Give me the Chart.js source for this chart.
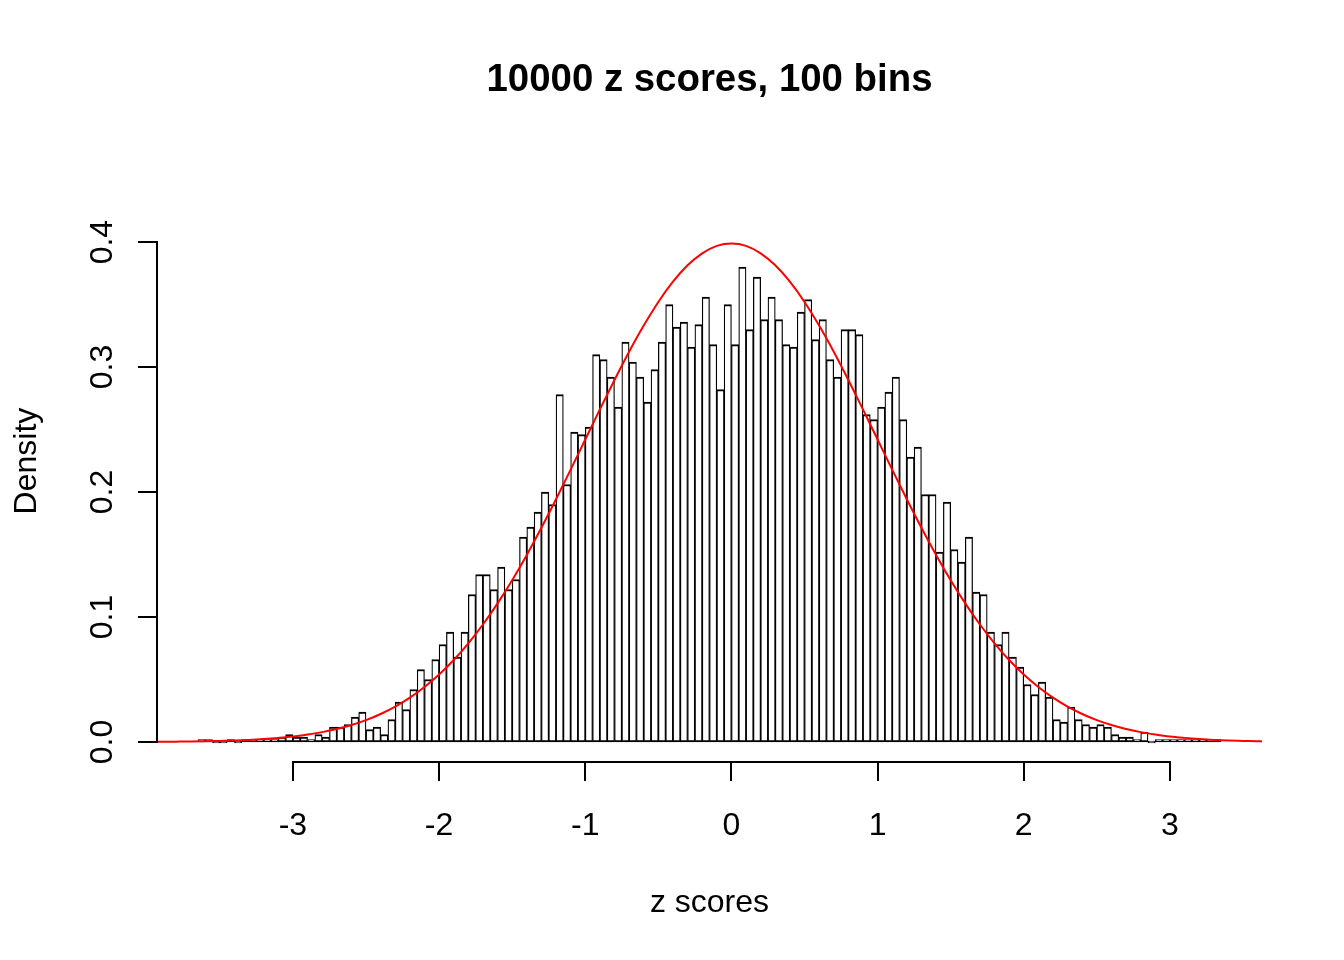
<!DOCTYPE html>
<html>
<head>
<meta charset="utf-8">
<script src="https://cdn.jsdelivr.net/npm/chart.js@4"></script>
<style>
  html, body { margin: 0; padding: 0; background: #ffffff; }
  #wrap { width: 1344px; height: 960px; }
</style>
</head>
<body>
<div id="wrap"><canvas id="c" width="1344" height="960"></canvas></div>
<script>
// ---- data ----
const titleText = "10000 z scores, 100 bins";
const xTitle = "z scores";
const yTitle = "Density";
const binStart = -3.65;
const binWidth = 0.05;
const densities = [
  0.002, 0.002, 0, 0, 0.002, 0, 0.002, 0.002, 0.002, 0.002,
  0.002, 0.004, 0.006, 0.004, 0.004, 0.002, 0.006, 0.004, 0.012, 0.012,
  0.014, 0.020, 0.024, 0.010, 0.012, 0.006, 0.018, 0.032, 0.026, 0.042,
  0.058, 0.050, 0.066, 0.078, 0.088, 0.068, 0.088, 0.118, 0.134, 0.134,
  0.122, 0.140, 0.122, 0.130, 0.164, 0.172, 0.184, 0.200, 0.190, 0.278,
  0.206, 0.248, 0.246, 0.252, 0.310, 0.306, 0.292, 0.268, 0.320, 0.304,
  0.292, 0.272, 0.298, 0.320, 0.350, 0.332, 0.336, 0.316, 0.334, 0.356,
  0.318, 0.282, 0.350, 0.318, 0.380, 0.330, 0.372, 0.338, 0.356, 0.338,
  0.318, 0.316, 0.344, 0.354, 0.322, 0.338, 0.306, 0.292, 0.330, 0.330,
  0.326, 0.262, 0.258, 0.268, 0.280, 0.292, 0.258, 0.228, 0.236, 0.198,
  0.198, 0.152, 0.192, 0.154, 0.144, 0.164, 0.120, 0.118, 0.088, 0.078,
  0.088, 0.068, 0.060, 0.046, 0.038, 0.048, 0.036, 0.018, 0.016, 0.028,
  0.018, 0.014, 0.012, 0.014, 0.012, 0.006, 0.004, 0.004, 0.002, 0.008,
  0, 0.002, 0.002, 0.002, 0.002, 0.002, 0.002, 0.002, 0.002, 0.002
];
const curveX = [
  -3.93, -3.9, -3.8, -3.7, -3.6, -3.5, -3.4, -3.3, -3.2, -3.1, -3.0,
  -2.9, -2.8, -2.7, -2.6, -2.5, -2.4, -2.3, -2.2, -2.1, -2.0,
  -1.9, -1.8, -1.7, -1.6, -1.5, -1.4, -1.3, -1.2, -1.1, -1.0,
  -0.9, -0.8, -0.7, -0.6, -0.5, -0.4, -0.3, -0.2, -0.1, 0.0,
  0.1, 0.2, 0.3, 0.4, 0.5, 0.6, 0.7, 0.8, 0.9, 1.0,
  1.1, 1.2, 1.3, 1.4, 1.5, 1.6, 1.7, 1.8, 1.9, 2.0,
  2.1, 2.2, 2.3, 2.4, 2.5, 2.6, 2.7, 2.8, 2.9, 3.0,
  3.1, 3.2, 3.3, 3.4, 3.5, 3.6, 3.63
];
const curveY = [
  0.0002, 0.0002, 0.0003, 0.0004, 0.0006, 0.0009, 0.0012, 0.0017, 0.0024, 0.0033, 0.0044,
  0.0060, 0.0079, 0.0104, 0.0136, 0.0175, 0.0224, 0.0283, 0.0355, 0.0440, 0.0540,
  0.0656, 0.0790, 0.0940, 0.1109, 0.1295, 0.1497, 0.1714, 0.1942, 0.2179, 0.2420,
  0.2661, 0.2897, 0.3123, 0.3332, 0.3521, 0.3683, 0.3814, 0.3910, 0.3970, 0.3989,
  0.3970, 0.3910, 0.3814, 0.3683, 0.3521, 0.3332, 0.3123, 0.2897, 0.2661, 0.2420,
  0.2179, 0.1942, 0.1714, 0.1497, 0.1295, 0.1109, 0.0940, 0.0790, 0.0656, 0.0540,
  0.0440, 0.0355, 0.0283, 0.0224, 0.0175, 0.0136, 0.0104, 0.0079, 0.0060, 0.0044,
  0.0033, 0.0024, 0.0017, 0.0012, 0.0009, 0.0006, 0.0005
];
const xTicks = [-3, -2, -1, 0, 1, 2, 3];
const xTickLabels = ["-3", "-2", "-1", "0", "1", "2", "3"];
const yTicks = [0, 0.1, 0.2, 0.3, 0.4];
const yTickLabels = ["0.0", "0.1", "0.2", "0.3", "0.4"];
const xRange = [-3.93, 3.63];
const yRange = [-0.016, 0.416];

// ---- build ----
const barData = densities.map((d, i) => ({ x: binStart + binWidth * (i + 0.5), y: d }));
const lineData = curveX.map((x, i) => ({ x: x, y: curveY[i] }));

const FONT = "'Liberation Sans', Arial, Helvetica, sans-serif";

const rAxes = {
  id: 'rAxes',
  afterDraw(chart) {
    const ctx = chart.ctx;
    const xs = chart.scales.x, ys = chart.scales.y;
    const ca = chart.chartArea;
    const tick = 19;
    ctx.save();
    ctx.strokeStyle = '#000';
    ctx.fillStyle = '#000';
    ctx.lineWidth = 2;
    ctx.lineCap = 'butt';
    // x axis
    const axY = Math.round(ca.bottom);
    ctx.beginPath();
    ctx.moveTo(xs.getPixelForValue(xTicks[0]) - 1, axY);
    ctx.lineTo(xs.getPixelForValue(xTicks[xTicks.length - 1]) + 1, axY);
    xTicks.forEach(v => {
      const px = Math.round(xs.getPixelForValue(v));
      ctx.moveTo(px, axY);
      ctx.lineTo(px, axY + tick);
    });
    ctx.stroke();
    ctx.font = '32px ' + FONT;
    ctx.textAlign = 'center';
    ctx.textBaseline = 'alphabetic';
    xTicks.forEach((v, i) => {
      ctx.fillText(xTickLabels[i], xs.getPixelForValue(v), axY + 73);
    });
    ctx.fillText(xTitle, (ca.left + ca.right) / 2, axY + 150);
    // y axis
    const axX = Math.round(ca.left);
    ctx.beginPath();
    ctx.moveTo(axX, ys.getPixelForValue(yTicks[0]) + 1);
    ctx.lineTo(axX, ys.getPixelForValue(yTicks[yTicks.length - 1]) - 1);
    yTicks.forEach(v => {
      const py = Math.round(ys.getPixelForValue(v));
      ctx.moveTo(axX, py);
      ctx.lineTo(axX - tick, py);
    });
    ctx.stroke();
    yTicks.forEach((v, i) => {
      ctx.save();
      ctx.translate(axX - 45, ys.getPixelForValue(v));
      ctx.rotate(-Math.PI / 2);
      ctx.fillText(yTickLabels[i], 0, 0);
      ctx.restore();
    });
    ctx.save();
    ctx.translate(axX - 121, (ca.top + ca.bottom) / 2 - 31);
    ctx.rotate(-Math.PI / 2);
    ctx.fillText(yTitle, 0, 0);
    ctx.restore();
    ctx.restore();
  }
};

new Chart(document.getElementById('c'), {
  type: 'bar',
  data: {
    datasets: [
      {
        type: 'line',
        label: 'dnorm',
        data: lineData,
        borderColor: '#ff0000',
        borderWidth: 2,
        pointRadius: 0,
        fill: false,
        cubicInterpolationMode: 'monotone',
        order: 0
      },
      {
        type: 'bar',
        label: 'Density',
        data: barData,
        backgroundColor: '#ffffff',
        borderColor: '#000000',
        borderWidth: { top: 2, left: 1.25, right: 1.25, bottom: 2 },
        borderSkipped: false,
        minBarLength: 2,
        barPercentage: 1,
        categoryPercentage: 1,
        order: 1
      }
    ]
  },
  options: {
    responsive: false,
    animation: false,
    devicePixelRatio: 1,
    layout: { padding: { left: 157, right: 82, top: 0, bottom: 198 } },
    scales: {
      x: { type: 'linear', min: xRange[0], max: xRange[1], bounds: 'data', offset: false, display: false },
      y: { type: 'linear', min: yRange[0], max: yRange[1], bounds: 'data', display: false }
    },
    plugins: {
      legend: { display: false },
      tooltip: { enabled: false },
      title: {
        display: true,
        text: titleText,
        color: '#000',
        fullSize: false,
        font: { family: FONT, size: 38.4, weight: 'bold', lineHeight: 1.2 },
        padding: { top: 57, bottom: 119 }
      }
    }
  },
  plugins: [rAxes]
});
</script>
</body>
</html>
